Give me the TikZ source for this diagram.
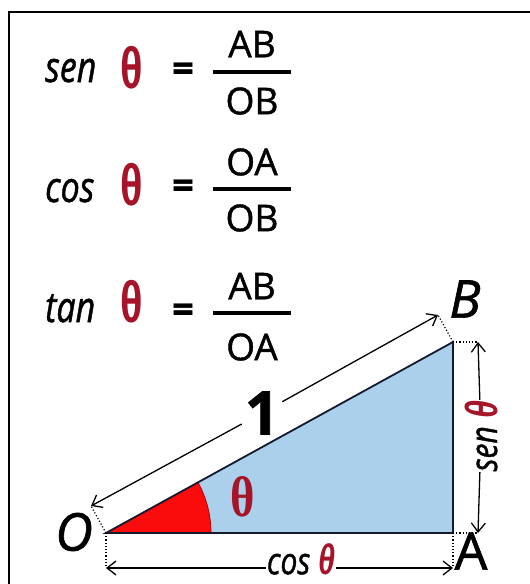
\documentclass[tikz,border=0pt]{standalone}
\usepackage{fontspec}
\setmainfont{Open Sans}[FakeBold=1.2]
\newfontfamily\thfont{Liberation Sans}
\newfontfamily\serfont{Liberation Serif}
\usetikzlibrary{arrows.meta,calc}
\definecolor{thred}{RGB}{165,20,40}
\definecolor{triblue}{RGB}{170,208,236}
\definecolor{angred}{RGB}{250,12,12}
\definecolor{edge}{RGB}{20,25,45}
\newcommand{\tallx}[1]{\scalebox{1}[1.25]{#1}}
\newcommand{\thg}{\scalebox{0.8}[1.12]{θ}}
\tikzset{
  fn/.style={anchor=base west,inner sep=0pt,font=\fontsize{34}{34}\selectfont\itshape},
  th/.style={inner sep=0pt,text=thred,font=\fontsize{52}{52}\selectfont\thfont\bfseries},
  eq/.style={inner sep=0pt,font=\fontsize{38}{38}\selectfont\bfseries},
  frac/.style={inner sep=0pt,font=\fontsize{37}{37}\selectfont},
  bar/.style={line width=3.2pt},
  pt/.style={inner sep=0pt,font=\fontsize{52}{52}\selectfont\itshape},
  dimarrow/.style={line width=1.3pt,-{Straight Barb[length=9pt,width=14pt]}},
  dots/.style={line width=1.2pt,dotted},
  lbl/.style={inner sep=0.5pt,fill=white,font=\fontsize{30}{30}\selectfont\itshape}
}
\begin{document}
\begin{tikzpicture}[x=1pt,y=-1pt]
\useasboundingbox (0,0) rectangle (530,584);
% frame
\draw[line width=2pt] (9,600) -- (9,12) -- (560,12);

% formulas
\node[fn] (s1) at (45,82) {\tallx{sen}};
\node[th] (t1) at (132,68) {\thg};
\node[eq] (e1) at (183,72) {=};
\draw[bar] (213,72) coordinate (b1l) -- (291,72) coordinate (b1r);
\node[frac] (n1) at (252,44) {AB};
\node[frac] (d1) at (252,101) {OB};

\node[fn] (s2) at (45,202) {\tallx{cos}};
\node[th] (t2) at (132,185) {\thg};
\node[eq] (e2) at (183,189) {=};
\draw[bar] (213,189) coordinate (b2l) -- (291,189) coordinate (b2r);
\node[frac] (n2) at (252,162) {OA};
\node[frac] (d2) at (252,218) {OB};

\node[fn] (s3) at (45,322) {\tallx{tan}};
\node[th] (t3) at (132,302) {\thg};
\node[eq] (e3) at (183,313) {=};
\draw[bar] (213,313) coordinate (b3l) -- (291,313) coordinate (b3r);
\node[frac] (n3) at (252,286) {AB};
\node[frac] (d3) at (252,347) {OA};

% triangle
\coordinate (O) at (106,533);
\coordinate (A) at (453,533);
\coordinate (B) at (453,342);
\fill[triblue] (O) -- (A) -- (B) -- cycle;
\filldraw[fill=angred,draw=red!70!black,line width=0.8pt] (O) -- ($(O)+(105,0)$) arc[start angle=0,end angle=-28.83,radius=105] -- cycle;
\draw[edge,line width=1.8pt,line join=miter] (O) -- (A) -- (B) -- cycle;
\node[inner sep=0pt,text=thred,font=\fontsize{52}{52}\selectfont\serfont\bfseries] (tin) at (243,497) {\scalebox{0.9}[1.1]{θ}};

% vertex labels
\node[pt] (lO) at (74,532) {O};
\node[pt] (lB) at (465,299) {B};
\node[pt,font=\fontsize{52}{52}\selectfont] (lA) at (471,551) {A};

% hypotenuse dimension
\coordinate (Op) at (91,506);
\coordinate (Bp) at (438,315);
\draw[dots] (O) -- (Op);
\draw[dots] (B) -- (Bp);
\node[inner sep=3pt,font=\fontsize{60}{60}\selectfont\bfseries] (one) at (262,413) {1};
\draw[dimarrow] (one) -- (Op);
\draw[dimarrow] (one) -- (Bp);

% bottom dimension
\coordinate (Ob) at (106,568);
\coordinate (Ab) at (453,568);
\draw[dots] (O) -- (Ob);
\draw[dots] (A) -- (Ab);
\node[lbl] (cosl) at (301,559) {\tallx{cos} {\thfont\bfseries\color{thred}\fontsize{38}{38}\selectfont\thg}};
\draw[dimarrow] (cosl.west |- Ob) -- (Ob);
\draw[dimarrow] (cosl.east |- Ab) -- (Ab);

% right dimension
\coordinate (Br) at (478,342);
\coordinate (Ar) at (478,533);
\draw[dots] (B) -- (Br);
\draw[dots] (A) -- (Ar);
\node[lbl,rotate=90] (senl) at (481,436) {\tallx{sen} {\thfont\bfseries\color{thred}\fontsize{40}{40}\selectfont\thg}};
\draw[dimarrow] (senl) -- (Br);
\draw[dimarrow] (senl) -- (Ar);
\end{tikzpicture}
\end{document}
